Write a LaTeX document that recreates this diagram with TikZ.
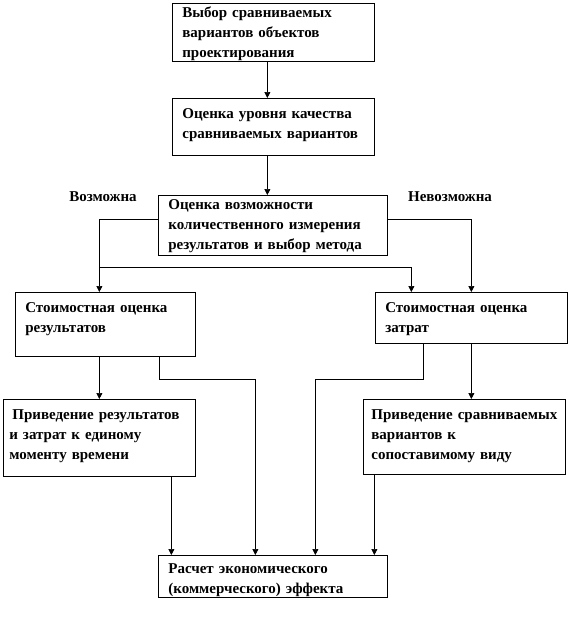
\documentclass[tikz,border=0pt]{standalone}
\usepackage{fontspec}
\setmainfont{Liberation Serif}
\usetikzlibrary{arrows.meta, calc}
\tikzset{
    stagebox/.style={rectangle, draw=black, line width=0.7pt, anchor=north west, align=left, inner xsep=10pt, inner ysep=4pt, text height=16pt, font=\bfseries\fontsize{15}{20}\selectfont},
    branchlabel/.style={font=\bfseries\fontsize{15}{20}\selectfont},
    arrow/.style={-{Triangle[length=6pt, width=6pt]}, line width=0.7pt, black},
}

\begin{document}
\begin{tikzpicture}[x=1pt, y=-1pt]
\useasboundingbox (0,0) rectangle (570,618);

% Top chain
\node[stagebox, text width=182pt, text height=10pt, text depth=40pt] (select) at (172,3) {Выбор сравниваемых\\вариантов объектов\\проектирования};
\node[stagebox, text width=182pt, text depth=33pt] (quality) at (172,98) {Оценка уровня качества\\сравниваемых вариантов};
\node[stagebox, text width=209pt, text height=10pt, text depth=42pt] (measure) at (158,195) {Оценка возможности\\количественного измерения\\результатов  и выбор метода};

% Branch labels
\node[branchlabel] (yes-label) at (103,197) {Возможна};
\node[branchlabel] (no-label) at (450,197) {Невозможна};

% Valuation boxes
\node[stagebox, text width=160pt, text depth=40pt] (result-cost) at (15,292) {Стоимостная оценка\\результатов};
\node[stagebox, text width=172pt, text depth=27pt] (expense-cost) at (375,292) {Стоимостная оценка\\затрат};

% Reduction boxes
\node[stagebox, inner xsep=6pt, text width=180pt, text depth=53pt] (time-reduce) at (3,399) {\hspace*{3pt}Приведение~результатов\\и затрат к единому\\моменту времени};
\node[stagebox, inner xsep=8pt, text width=186pt, text depth=51pt] (view-reduce) at (363,399) {Приведение~сравниваемых\\вариантов к\\сопоставимому~виду};

% Result box
\node[stagebox, text width=209pt, text height=14pt, text depth=20pt] (effect) at (158,555) {Расчет экономического\\(коммерческого)  эффекта};

% Arrows down the top chain
\draw[arrow] ([xshift=-6pt]select.south) -- ([xshift=-6pt]select.south |- quality.north);
\draw[arrow] ([xshift=-6pt]quality.south) -- ([xshift=-6pt]quality.south |- measure.north);

% Branches from the measurement box
\draw[arrow] ([yshift=6pt]measure.west) -| ([xshift=-6pt]result-cost.north);
\draw[arrow] ([yshift=6pt]measure.east) -| (expense-cost.north);
\coordinate (split) at (99,267);
\draw[arrow] (split) -| ([xshift=-60pt]expense-cost.north);

% Valuation to reduction
\draw[arrow] ([xshift=-6pt]result-cost.south) -- (time-reduce.north);
\draw[arrow] (expense-cost.south) -- (expense-cost.south |- view-reduce.north);

% Everything into the result box
\draw[arrow] ([xshift=54pt]result-cost.south) -- ++(0,23) -| ([xshift=-17.5pt]effect.north);
\draw[arrow] ([xshift=-48pt]expense-cost.south) -- ++(0,36) -| ([xshift=42.5pt]effect.north);
\draw[arrow] ([xshift=72pt]time-reduce.south) -- ([xshift=72pt]time-reduce.south |- effect.north);
\draw[arrow] ([xshift=-90pt]view-reduce.south) -- ([xshift=-90pt]view-reduce.south |- effect.north);

\end{tikzpicture}
\end{document}
